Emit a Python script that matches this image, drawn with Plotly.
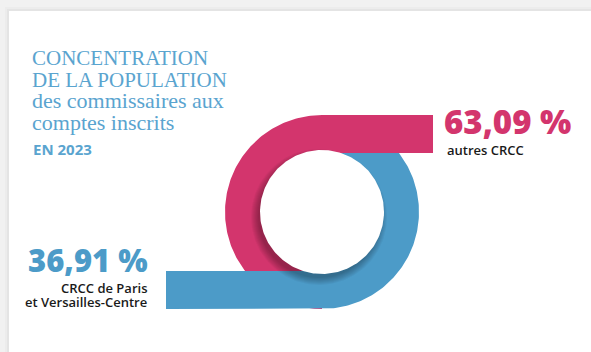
import numpy as np
import plotly.graph_objects as go

# ---- data ----
categories = ["autres CRCC", "CRCC de Paris", "et Versailles-Centre"]
values = [63.09, 36.91]
series_colors = ["#d3356d", "#4c9bc8"]
title_lines = ["CONCENTRATION", "DE LA POPULATION"]
subtitle_lines = ["des commissaires aux", "comptes inscrits"]
year_label = "EN 2023"

def fmt(v):
    return f"{v:.2f}".replace(".", ",") + " %"

# ---- geometry (pixel space) ----
W, H = 591, 352
cx, cy = 322, 212
R, r = 97, 59
hole_r = 62
pink_bar_end = 433
blue_bar_start = 166
title_color = "#5aa4cf"

def arc(rad, a0, a1, n=160):
    t = np.radians(np.linspace(a0, a1, n))
    return cx + rad * np.cos(t), cy - rad * np.sin(t)

def poly(xs, ys, color, name):
    return go.Scatter(x=list(xs), y=list(ys), fill="toself", fillcolor=color,
                      mode="lines", line=dict(width=0, color=color),
                      hoverinfo="skip", showlegend=False, name=name)

fig = go.Figure()

# pink left half ring
ox, oy = arc(R, 90, 270)
ix, iy = arc(r, 270, 90)
fig.add_trace(poly(np.r_[ox, ix], np.r_[oy, iy], series_colors[0], "pink arc"))

# blue bar + right half ring
ox, oy = arc(R, -90, 90)
ix, iy = arc(r, 90, -90)
bx = np.r_[[blue_bar_start], ox, ix, [blue_bar_start]]
by = np.r_[[cy + R], oy, iy, [cy + r]]
fig.add_trace(poly(bx, by, series_colors[1], "blue"))

# pink bar on top
fig.add_trace(poly([cx - 1, pink_bar_end, pink_bar_end, cx - 1],
                   [cy - R, cy - R, cy - r, cy - r], series_colors[0], "pink bar"))

# hole shadow (soft, toward lower-left)
for k in range(7, -1, -1):
    sx, sy = arc(hole_r - 1 + k, 0, 360, 180)
    fig.add_trace(poly(sx - 3, sy + 5, "rgba(0,0,0,0.04)", "shadow"))
hx, hy = arc(hole_r, 0, 360, 240)
fig.add_trace(poly(hx, hy, "#ffffff", "hole"))

ann = []
def text(x, y, s, size, color, family, weight=400, xanchor="left"):
    ann.append(dict(x=x, y=y, xref="x", yref="y", text=s, showarrow=False,
                    xanchor=xanchor, yanchor="middle", borderpad=0,
                    font=dict(size=size, color=color, family=family, weight=weight)))

serif = "Liberation Serif"
sans = "Open Sans"
text(31, 58, title_lines[0], 21, title_color, serif)
text(31, 80, title_lines[1], 21, title_color, serif)
text(31, 100, subtitle_lines[0], 22, title_color, serif)
text(31, 122, subtitle_lines[1], 22, title_color, serif)
text(32, 149, year_label, 15, title_color, sans, 700)

text(443, 121, fmt(values[0]), 33, series_colors[0], sans, 800)
text(446, 150, categories[0], 13, "#1a1a1a", sans, 600)
text(149, 260, fmt(values[1]), 31, series_colors[1], sans, 800, "right")
text(148, 288, categories[1], 13, "#1a1a1a", sans, 600, "right")
text(148, 302, categories[2], 13, "#1a1a1a", sans, 600, "right")

shapes = [
    dict(type="rect", xref="x", yref="y", x0=5, y0=7, x1=W + 20, y1=H + 20,
         fillcolor="rgba(0,0,0,0.02)", line=dict(width=0), layer="below"),
    dict(type="rect", xref="x", yref="y", x0=7, y0=9, x1=W + 20, y1=H + 20,
         fillcolor="rgba(0,0,0,0.03)", line=dict(width=0), layer="below"),
    dict(type="rect", xref="x", yref="y", x0=9, y0=11, x1=W + 20, y1=H + 20,
         fillcolor="#ffffff", line=dict(width=0), layer="below"),
]

fig.update_layout(
    width=W, height=H, margin=dict(l=0, r=0, t=0, b=0),
    paper_bgcolor="#f1f1f1", plot_bgcolor="rgba(0,0,0,0)",
    xaxis=dict(range=[0, W], visible=False, fixedrange=True),
    yaxis=dict(range=[H, 0], visible=False, fixedrange=True),
    annotations=ann, shapes=shapes, showlegend=False,
)

fig.write_html("out.html")
